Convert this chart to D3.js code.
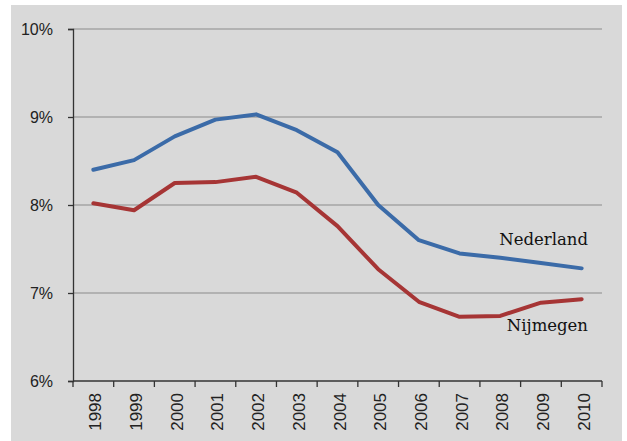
<!DOCTYPE html>
<html><head><meta charset="utf-8">
<script src="https://cdn.jsdelivr.net/npm/d3@7"></script>
<style>html,body{margin:0;padding:0;background:#fff;}</style>
</head><body>
<svg id="c" width="627" height="441"></svg>
<script>
const years = ["1998","1999","2000","2001","2002","2003","2004","2005","2006","2007","2008","2009","2010"];
const nederland = [8.40, 8.51, 8.78, 8.97, 9.03, 8.85, 8.60, 8.00, 7.60, 7.45, 7.40, 7.34, 7.28];
const nijmegen = [8.02, 7.94, 8.25, 8.26, 8.32, 8.14, 7.76, 7.27, 6.90, 6.73, 6.74, 6.89, 6.93];
const yTicks = [6, 7, 8, 9, 10];
const seriesNames = ["Nederland", "Nijmegen"];

(function () {
const svg = d3.select("#c");
svg.append("rect").attr("x", 11).attr("y", 5).attr("width", 611).attr("height", 436).attr("fill", "#d9d9d9");

const pL = 73, pR = 602, pT = 29, pB = 381;
const x = d3.scaleBand().domain(years).range([pL, pR]).paddingInner(0).paddingOuter(0);
const y = d3.scaleLinear().domain([6, 10]).range([pB, pT]);

// gridlines
svg.append("g").selectAll("line").data(yTicks.filter(t => t > 6)).join("line")
  .attr("x1", pL).attr("x2", pR)
  .attr("y1", d => y(d)).attr("y2", d => y(d))
  .attr("stroke", "#8c8c8c").attr("stroke-width", 1.2);

// y axis
const yAxis = svg.append("g").attr("transform", `translate(${pL},0)`)
  .call(d3.axisLeft(y).tickValues(yTicks).tickSize(5).tickPadding(15).tickFormat(d => d + "%"));
yAxis.select(".domain").attr("stroke", "#333").attr("stroke-width", 1.3);
yAxis.selectAll(".tick line").attr("stroke", "#333").attr("stroke-width", 1.3);
yAxis.selectAll("text").attr("font-family", "'Liberation Sans', Arial, sans-serif").attr("font-size", 16).attr("fill", "#222");

// x axis: ticks at band boundaries
const xAxisG = svg.append("g").attr("transform", `translate(0,${pB})`);
xAxisG.append("line").attr("x1", pL).attr("x2", pR).attr("y1", 0).attr("y2", 0).attr("stroke", "#333").attr("stroke-width", 1.3);
const boundaries = years.map(d => x(d)).concat([x(years[years.length-1]) + x.bandwidth()]);
xAxisG.selectAll("line.t").data(boundaries).join("line").attr("class", "t")
  .attr("x1", d => d).attr("x2", d => d).attr("y1", 0).attr("y2", 6)
  .attr("stroke", "#333").attr("stroke-width", 1.3);
xAxisG.selectAll("text").data(years).join("text")
  .attr("transform", d => `translate(${x(d) + x.bandwidth()/2 + 8},${12}) rotate(-90)`)
  .attr("text-anchor", "end")
  .attr("font-family", "'Liberation Sans', Arial, sans-serif")
  .attr("font-size", 17).attr("fill", "#222")
  .text(d => d);

const line = d3.line().x((d, i) => x(years[i]) + x.bandwidth()/2).y(d => y(d));
svg.append("path").datum(nederland).attr("d", line).attr("fill", "none")
  .attr("stroke", "#3b6ba8").attr("stroke-width", 4).attr("stroke-linejoin", "round").attr("stroke-linecap", "round");
svg.append("path").datum(nijmegen).attr("d", line).attr("fill", "none")
  .attr("stroke", "#a63535").attr("stroke-width", 4).attr("stroke-linejoin", "round").attr("stroke-linecap", "round");

// labels
const lblFont = "'DejaVu Serif', 'Liberation Serif', serif";
svg.append("text").attr("x", 588).attr("y", 245).attr("text-anchor", "end")
  .attr("font-family", lblFont).attr("font-size", 16.5).attr("fill", "#111").text(seriesNames[0]);
svg.append("text").attr("x", 588).attr("y", 331).attr("text-anchor", "end")
  .attr("font-family", lblFont).attr("font-size", 16.5).attr("fill", "#111").text(seriesNames[1]);
})();
</script>
</body></html>
